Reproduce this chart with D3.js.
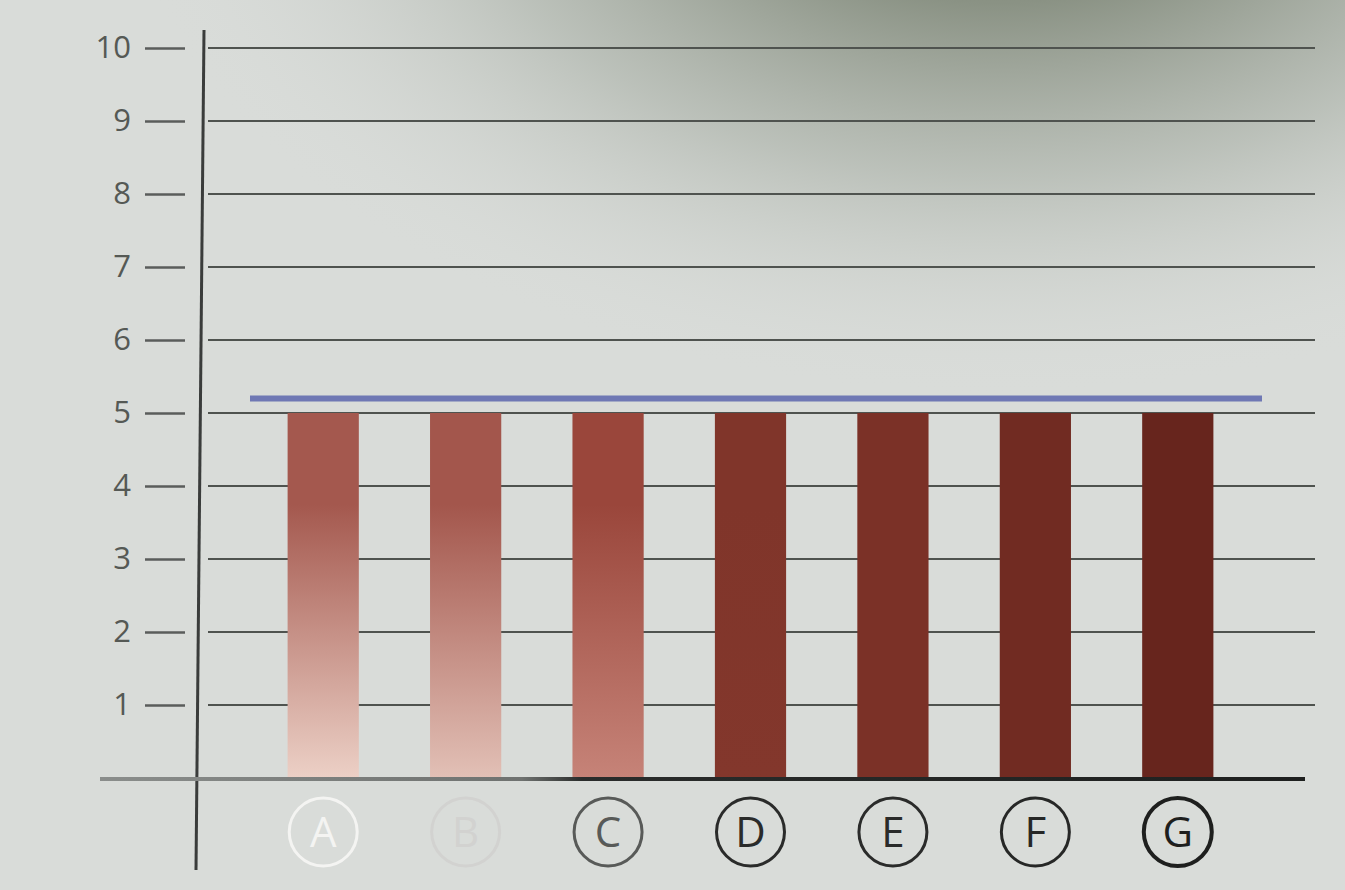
<!DOCTYPE html>
<html><head><meta charset="utf-8">
<script src="https://cdn.jsdelivr.net/npm/d3@7"></script>
<style>html,body{margin:0;padding:0;background:#d9dcd9;}svg{display:block;}</style>
</head><body>
<svg id="c" width="1345" height="890"></svg>
<script>
const categories = ["A","B","C","D","E","F","G"];
const values = [5,5,5,5,5,5,5];
const referenceValue = 5.2;
const yTicks = [1,2,3,4,5,6,7,8,9,10];

const svg = d3.select("#c");
const defs = svg.append("defs");
// background shading (photo shadow at top right)
const bg = defs.append("radialGradient").attr("id","bgshade")
  .attr("gradientUnits","userSpaceOnUse").attr("cx",1000).attr("cy",-150).attr("r",880)
  .attr("gradientTransform","translate(1000,-150) scale(1,0.62) translate(-1000,150)");
bg.append("stop").attr("offset","0").attr("stop-color","#7a8473");
bg.append("stop").attr("offset","0.28").attr("stop-color","#8a9284");
bg.append("stop").attr("offset","0.6").attr("stop-color","#b4bab2").attr("stop-opacity",0.8);
bg.append("stop").attr("offset","1").attr("stop-color","#d9dcd9").attr("stop-opacity",0);
svg.append("rect").attr("width",1345).attr("height",890).attr("fill","#d9dcd9");
svg.append("rect").attr("width",1345).attr("height",890).attr("fill","url(#bgshade)");

const barTop = ["#a4584e","#a3564c","#9a463b","#80352a","#7b3127","#712b22","#67251d"];
const barBot = ["#ecd0c6","#e2c0b6","#c68378","#83372c","#7b3127","#712b22","#67251d"];
categories.forEach((c,i)=>{
  const g = defs.append("linearGradient").attr("id","bar"+i).attr("x1",0).attr("y1",0).attr("x2",0).attr("y2",1);
  g.append("stop").attr("offset","0").attr("stop-color",barTop[i]);
  g.append("stop").attr("offset","0.25").attr("stop-color",barTop[i]);
  g.append("stop").attr("offset","1").attr("stop-color",barBot[i]);
});

const y = d3.scaleLinear().domain([0,10]).range([778,48]);
const x = d3.scaleBand().domain(categories).range([252,1249]).paddingInner(0.5).paddingOuter(0.25);

// grid
svg.append("g").selectAll("line").data(yTicks).join("line")
  .attr("x1",208).attr("x2",1315)
  .attr("y1",d=>y(d)).attr("y2",d=>y(d))
  .attr("stroke","#4f534f").attr("stroke-width",2);

// y axis ticks & labels
const yAxis = d3.axisLeft(y).tickValues(yTicks).tickSize(40).tickPadding(14).tickFormat(d3.format("d"));
const ag = svg.append("g").attr("transform","translate(185,0)").call(yAxis);
ag.select(".domain").remove();
ag.selectAll(".tick line").attr("stroke","#5a5d5b").attr("stroke-width",2.5);
ag.selectAll(".tick text").attr("fill","#555955").attr("font-family","'Open Sans', sans-serif").attr("font-size",31);

// vertical axis line
svg.append("line").attr("x1",204).attr("x2",196).attr("y1",30).attr("y2",870)
  .attr("stroke","#3a3c3b").attr("stroke-width",3);

// bars
svg.append("g").selectAll("rect").data(values).join("rect")
  .attr("x",(d,i)=>x(categories[i]))
  .attr("width",x.bandwidth())
  .attr("y",d=>y(d))
  .attr("height",d=>y(0)-y(d))
  .attr("fill",(d,i)=>"url(#bar"+i+")");

// baseline
const bl = defs.append("linearGradient").attr("id","bl").attr("x1",0).attr("x2",1);
bl.append("stop").attr("offset","0").attr("stop-color","#8a8d8b");
bl.append("stop").attr("offset","0.35").attr("stop-color","#6f7270");
bl.append("stop").attr("offset","0.4").attr("stop-color","#2a2c2b");
bl.append("stop").attr("offset","1").attr("stop-color","#1e201f");
svg.append("rect").attr("x",100).attr("width",1205).attr("y",y(0)-1).attr("height",4).attr("fill","url(#bl)");

// reference line
svg.append("line").attr("x1",250).attr("x2",1262)
  .attr("y1",y(referenceValue)).attr("y2",y(referenceValue))
  .attr("stroke","#6f78b4").attr("stroke-width",6);

// circled labels
const labelColors = ["#f4f4f2","#d2d2d0","#585a58","#2a2b2a","#2a2b2a","#262726","#1e1f1e"];
const lg = svg.append("g").selectAll("g").data(categories).join("g")
  .attr("transform",d=>`translate(${x(d)+x.bandwidth()/2},832)`);
lg.append("circle").attr("r",34).attr("fill","none")
  .attr("stroke",(d,i)=>labelColors[i]).attr("stroke-width",(d,i)=>i===6?4:3);
lg.append("text").text(d=>d).attr("text-anchor","middle").attr("dy","0.36em")
  .attr("font-family","'Open Sans', sans-serif").attr("font-size",42)
  .attr("fill",(d,i)=>labelColors[i]);
</script>
</body></html>
